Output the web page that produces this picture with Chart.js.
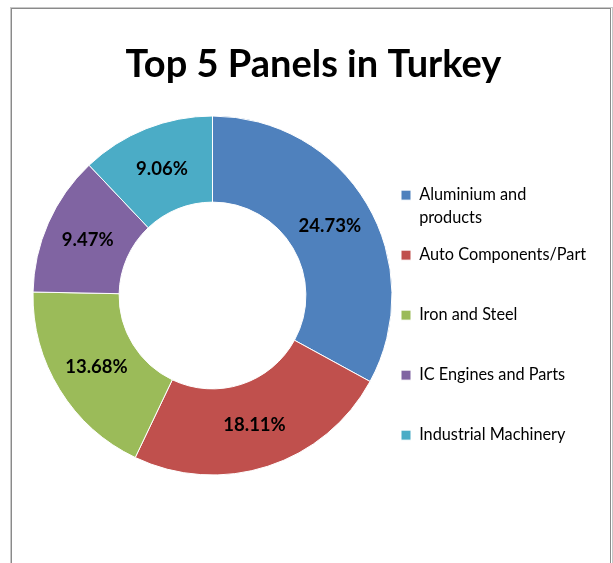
<!DOCTYPE html>
<html>
<head>
<meta charset="utf-8">
<script src="https://cdn.jsdelivr.net/npm/chart.js@4/dist/chart.umd.min.js"></script>
<style>
html,body{margin:0;padding:0;background:#fff;}
#wrap{position:relative;width:613px;height:563px;}
</style>
</head>
<body>
<div id="wrap"><canvas id="c" width="613" height="563"></canvas></div>
<script>
const titleText = 'Top 5 Panels in Turkey';
const categories = [
  ['Aluminium and', 'products'],
  ['Auto Components/Part', ''],
  ['Iron and Steel', ''],
  ['IC Engines and Parts', ''],
  ['Industrial Machinery', '']
];
const shares = [24.73, 18.11, 13.68, 9.47, 9.06];
const colors = ['#4F81BD', '#C0504D', '#9BBB59', '#8064A2', '#4BACC6'];

const framePlugin = {
  id: 'frame',
  beforeDraw(chart) {
    const ctx = chart.ctx;
    ctx.save();
    ctx.fillStyle = '#fff';
    ctx.fillRect(0, 0, chart.width, chart.height);
    ctx.strokeStyle = '#c8c8c8';
    ctx.lineWidth = 1;
    ctx.strokeRect(10.5, 7.5, 602, 600);
    ctx.strokeStyle = '#8a8a8a';
    ctx.lineWidth = 1;
    ctx.strokeRect(11.5, 8.5, 599, 600);
    ctx.restore();
  }
};

const valueLabels = {
  id: 'valueLabels',
  afterDatasetsDraw(chart) {
    const ctx = chart.ctx;
    const meta = chart.getDatasetMeta(0);
    ctx.save();
    ctx.font = 'bold 18.5px Lato, "Open Sans", sans-serif';
    ctx.fillStyle = '#000';
    ctx.textAlign = 'center';
    ctx.textBaseline = 'middle';
    meta.data.forEach((arc, i) => {
      const p = arc.getCenterPoint();
      ctx.fillText(shares[i].toFixed(2) + '%', p.x, p.y);
    });
    ctx.restore();
  }
};

new Chart(document.getElementById('c'), {
  type: 'doughnut',
  data: {
    labels: categories,
    datasets: [{
      data: shares,
      backgroundColor: colors,
      borderColor: '#ffffff',
      borderWidth: 1,
      hoverOffset: 0,
      clip: false
    }]
  },
  options: {
    responsive: false,
    animation: false,
    radius: 179.5,
    cutout: 90,
    layout: { padding: { left: 39, right: 25, top: 0, bottom: 76 } },
    plugins: {
      title: {
        display: true,
        text: titleText,
        color: '#000',
        font: { family: 'Lato, "Open Sans", sans-serif', size: 38, weight: 'bold', lineHeight: 1.2 },
        padding: { top: 42.2, bottom: 16.2 }
      },
      legend: {
        display: true,
        position: 'right',
        align: 'end',
        maxWidth: 202,
        labels: {
          boxWidth: 10,
          boxHeight: 10,
          padding: 15,
          color: '#000',
          font: { family: 'Lato, "Open Sans", sans-serif', size: 16.3, lineHeight: 1.3804 }
        }
      },
      tooltip: { enabled: false }
    }
  },
  plugins: [framePlugin, valueLabels]
});
</script>
</body>
</html>
